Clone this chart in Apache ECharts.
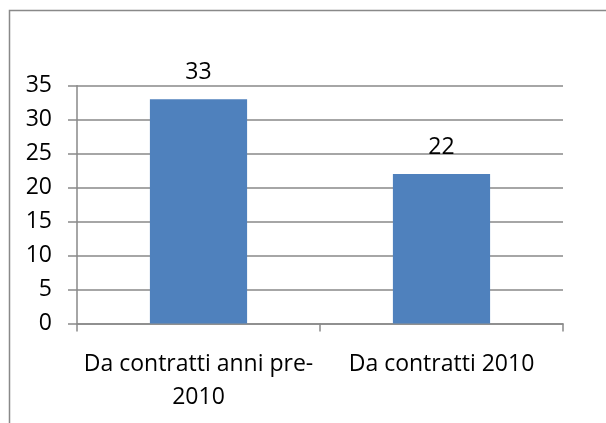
<!DOCTYPE html>
<html>
	<head>
		<meta charset="UTF-8">
		<title>Contratti</title>
		<script src="https://cdn.jsdelivr.net/npm/echarts@6/dist/echarts.min.js" type="text/javascript"></script>
		<style>
			html, body { margin: 0; padding: 0; background: #fff; }
			#main { width: 606px; height: 423px; }
		</style>
	</head>
	<body>
		<div id="main"></div>
		<script type="text/javascript">
			// dati del grafico
			var categorie = ['Da contratti anni pre-2010', 'Da contratti 2010'];
			var valori = [33, 22];
			var yMin = 0;
			var yMax = 35;
			var yPasso = 5;

			var grigio = '#898989';
			var font = 'Open Sans';

			var myChart = echarts.init(document.getElementById('main'));
			var option = {
				animation: false,
				backgroundColor: '#ffffff',
				// cornice del grafico (tagliata a destra e in basso)
				graphic: [{
					type: 'rect',
					shape: { x: 9.5, y: 10.5, width: 700, height: 500 },
					style: { fill: 'none', stroke: grigio, lineWidth: 1.5 },
					silent: true
				}],
				grid: {
					left: 77,
					right: 43,
					top: 85.7,
					bottom: 99.5,
					containLabel: false
				},
				xAxis: {
					type: 'category',
					data: categorie,
					boundaryGap: true,
					axisLine: { show: true, lineStyle: { color: grigio, width: 1.5 } },
					axisTick: { show: true, length: 8, alignWithLabel: false, lineStyle: { color: grigio, width: 1.5 } },
					axisLabel: {
						color: '#000',
						fontFamily: font,
						fontSize: 23,
						lineHeight: 33,
						margin: 24,
						interval: 0,
						formatter: function (v) {
							return v.replace('pre-', 'pre-\n');
						}
					}
				},
				yAxis: {
					type: 'value',
					min: yMin,
					max: yMax,
					interval: yPasso,
					axisLine: { show: true, lineStyle: { color: grigio, width: 1.5 } },
					axisTick: { show: true, length: 9, lineStyle: { color: grigio, width: 1.5 } },
					splitLine: { show: true, lineStyle: { color: grigio, width: 1.5 } },
					axisLabel: {
						color: '#000',
						fontFamily: font,
						fontSize: 23,
						margin: 25
					}
				},
				series: [{
					type: 'bar',
					data: valori,
					barWidth: '40%',
					itemStyle: { color: '#4F81BD' },
					label: {
						show: true,
						position: 'top',
						distance: 15,
						color: '#000',
						fontFamily: font,
						fontSize: 23
					}
				}]
			};
			myChart.setOption(option);
		</script>
	</body>
</html>
